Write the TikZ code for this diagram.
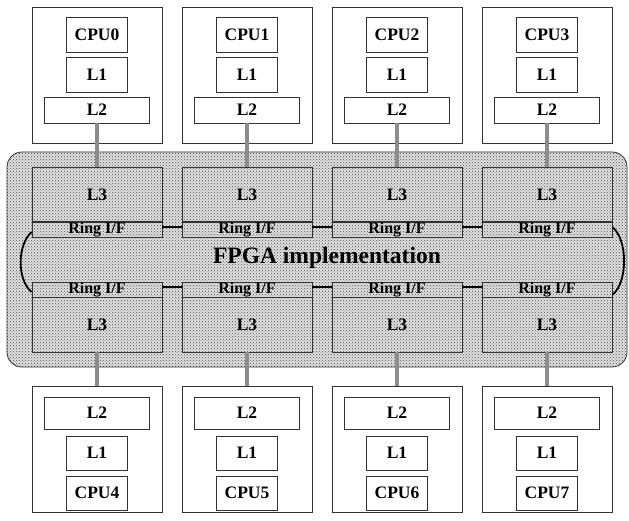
\documentclass[tikz,border=0pt]{standalone}
\usepackage{fontspec}
\setmainfont{Liberation Serif}
\usetikzlibrary{patterns}

\begin{document}
\begin{tikzpicture}[x=1pt,y=-1pt,
    lbl/.style={font=\fontsize{17.5}{19}\selectfont\bfseries},
    box/.style={draw=black!80,line width=0.8pt,inner sep=0pt,lbl},
    unit/.style={box,minimum width=130pt},
    core/.style={box,minimum width=61pt,minimum height=35pt},
    ltwo/.style={box,minimum width=105pt},
    ringif/.style={box,minimum width=130pt,minimum height=15pt,font=\fontsize{16}{17}\selectfont\bfseries},
    link/.style={black!45,line width=4pt},
    ring/.style={line width=1.8pt}]
\useasboundingbox (0,0) rectangle (629,521);

% FPGA area
\draw[black!80,line width=0.8pt,rounded corners=15pt,preaction={fill=black!12},
      pattern=crosshatch dots,pattern color=black!70] (7,152) rectangle (627,367);
\node[font=\fontsize{23.5}{26}\selectfont\bfseries] (fpga) at (327,258) {FPGA implementation};

% upper row
\foreach \i in {0,...,3}{
  \node[unit,minimum height=136pt] (ut\i) at (97+150*\i,75) {};
  \node[core] (cput\i) at (97+150*\i,34.5) {CPU\i};
  \node[core] (l1t\i) at (97+150*\i,74.5) {L1};
  \node[ltwo,minimum height=26pt] (l2t\i) at (97+150*\i,110) {L2};
  \node[unit,minimum height=55pt] (l3t\i) at (97+150*\i,194.5) {L3};
  \node[ringif] (rt\i) at (97+150*\i,229.5) {Ring I/F};
  \draw[black!80,line width=1.1pt] (rt\i.north west) -- (rt\i.north east);
  \draw[link] (l2t\i.south) -- (l3t\i.north);
}

% lower row
\foreach \i [evaluate=\i as \j using int(\i+4)] in {0,...,3}{
  \node[ringif] (rb\i) at (97+150*\i,289.5) {Ring I/F};
  \node[unit,minimum height=55pt] (l3b\i) at (97+150*\i,324.5) {L3};
  \draw[black!80,line width=1.1pt] (rb\i.south west) -- (rb\i.south east);
  \node[unit,minimum height=126pt] (ub\i) at (97+150*\i,449) {};
  \node[ltwo,minimum height=32pt] (l2b\i) at (97+150*\i,413) {L2};
  \node[core,minimum height=34pt] (l1b\i) at (97+150*\i,453) {L1};
  \node[core,minimum height=34pt] (cpub\i) at (97+150*\i,493) {CPU\j};
  \draw[link] (l3b\i.south) -- (ub\i.north);
}

% ring
\foreach \i [evaluate=\i as \j using int(\i+1)] in {0,1,2}{
  \draw[ring] ([yshift=2.5pt]rt\i.east) -- ([yshift=2.5pt]rt\j.west);
  \draw[ring] ([yshift=2.5pt]rb\i.east) -- ([yshift=2.5pt]rb\j.west);
}
\draw[ring] ([yshift=-2.5pt]rt0.west) .. controls (17,245) and (17,280) .. ([yshift=-2.5pt]rb0.west);
\draw[ring] ([yshift=2.5pt]rt3.east) .. controls (628,240) and (628,282) .. ([yshift=-5.5pt]rb3.east);
\end{tikzpicture}
\end{document}
